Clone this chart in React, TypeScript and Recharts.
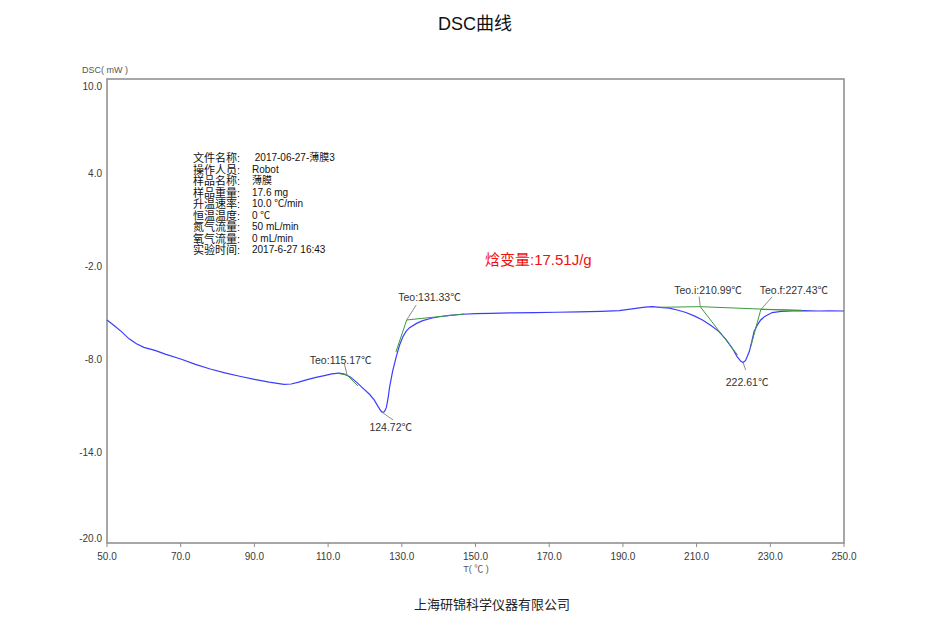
import React from "react";
import {
  LineChart,
  Line,
  XAxis,
  YAxis,
  ReferenceArea,
  ReferenceLine,
  ReferenceDot,
} from "recharts";

// DSC curve, temperature (℃) vs heat flow (mW)
const temps = [
  50, 52, 54, 56, 58, 60, 63, 66, 70, 74, 78, 82, 86, 90, 94, 98, 100, 102, 104.6,
  107, 109, 111, 113, 114.5, 116, 117.7, 119.5, 121.3, 122.5, 123.5, 124.3, 124.72,
  125.3, 125.8, 126.3, 126.7, 127.5, 128.5, 129.4, 130.3, 131.2, 132.1, 134, 135.7,
  138, 140.2, 143, 146.6, 150, 154, 160, 166, 172, 178, 184, 189, 193, 196, 198, 200,
  202.6, 205, 207.1, 209.5, 211.6, 214, 216.1, 218, 219.7, 221, 222, 222.61, 223.3,
  224.3, 225, 225.6, 226.5, 227.4, 228.5, 230.5, 233, 236, 239, 243, 246, 250,
];
const heatFlow = [
  -5.58, -5.95, -6.35, -6.8, -7.12, -7.35, -7.55, -7.8, -8.1, -8.45, -8.75, -9.0,
  -9.22, -9.42, -9.6, -9.75, -9.72, -9.6, -9.42, -9.28, -9.18, -9.07, -9.02, -9.08,
  -9.26, -9.6, -10.0, -10.4, -10.75, -11.15, -11.45, -11.56, -11.5, -11.25, -10.6,
  -9.9, -8.9, -7.95, -7.2, -6.66, -6.3, -6.08, -5.8, -5.62, -5.47, -5.37, -5.28,
  -5.21, -5.17, -5.15, -5.12, -5.1, -5.08, -5.06, -5.03, -4.98, -4.85, -4.75, -4.72,
  -4.76, -4.82, -4.95, -5.1, -5.33, -5.58, -5.95, -6.33, -6.85, -7.41, -7.95, -8.25,
  -8.33, -8.2, -7.62, -6.95, -6.33, -5.9, -5.58, -5.35, -5.1, -5.03, -5.0, -4.98,
  -5.0, -4.99, -5.0,
];

const xTicks = [50, 70, 90, 110, 130, 150, 170, 190, 210, 230, 250];
const yTicks = [10, 4, -2, -8, -14, -20];

// tangent / baseline segments: [t1, v1, t2, v2]
const tangents = [
  [112.5, -9.02, 115.17, -9.15],
  [115.17, -9.15, 118.1, -9.85],
  [128.4, -7.65, 131.33, -5.58],
  [131.33, -5.58, 147, -5.19],
  [199.9, -4.76, 210.99, -4.72],
  [210.99, -4.72, 238.7, -4.98],
  [210.99, -4.72, 221.1, -7.84],
  [224.7, -7.3, 227.43, -4.9],
  [227.43, -4.9, 238.5, -4.95],
];

// leader lines from curve to label: [t1, v1, t2, v2]
const leaders = [
  [115.17, -9.15, 114.4, -8.4],
  [124.72, -11.56, 127.6, -12.04],
  [131.33, -5.58, 133.9, -4.61],
  [210.99, -4.72, 210.7, -4.07],
  [227.43, -4.9, 230.5, -4.09],
  [222.61, -8.33, 223.3, -8.81],
];

const peakLabels = [
  { t: 113.4, v: -8.16, text: "Teo:115.17℃" },
  { t: 127.0, v: -12.5, text: "124.72℃" },
  { t: 137.5, v: -4.09, text: "Teo:131.33℃" },
  { t: 213.1, v: -3.64, text: "Teo.i:210.99℃" },
  { t: 236.4, v: -3.64, text: "Teo.f:227.43℃" },
  { t: 223.7, v: -9.59, text: "222.61℃" },
];

const infoLabels = [
  "文件名称:",
  "操作人员:",
  "样品名称:",
  "样品重量:",
  "升温速率:",
  "恒温温度:",
  "氮气流量:",
  "氧气流量:",
  "实验时间:",
];
const infoValues = [
  " 2017-06-27-薄膜3",
  "Robot",
  "薄膜",
  "17.6 mg",
  "10.0 ℃/min",
  "0 ℃",
  "50 mL/min",
  "0 mL/min",
  "2017-6-27 16:43",
];

const data = temps.map((t, i) => ({ t, v: heatFlow[i] }));

const FONT = "'Liberation Sans', Arial, 'Noto Sans CJK SC', sans-serif";
const AXIS_GRAY = "#8a8a8a";
const TEXT = "#3a3a3a";

const yTickOffset: Record<number, number> = { 10: 8, 4: 2.2, "-2": 2.5, "-8": 2.6, "-14": 2.8, "-20": -4 };

const YTick = (props: any) => {
  const { x, y, payload } = props;
  const off = yTickOffset[payload.value] ?? 2;
  return (
    <text x={x} y={y + off} textAnchor="end" dominantBaseline="middle" fontSize={10} fill={TEXT} fontFamily={FONT}>
      {payload.value.toFixed(1)}
    </text>
  );
};

const XTick = (props: any) => {
  const { x, y, payload } = props;
  return (
    <text x={x} y={y} dy="0.71em" textAnchor="middle" fontSize={10} fill={TEXT} fontFamily={FONT}>
      {payload.value.toFixed(1)}
    </text>
  );
};

const abs = (left: number, top: number, extra: React.CSSProperties = {}): React.CSSProperties => ({
  position: "absolute",
  left,
  top,
  whiteSpace: "pre",
  fontFamily: FONT,
  lineHeight: 1,
  ...extra,
});

export default function App() {
  return (
    <div style={{ position: "absolute", left: 0, top: 0, width: 948, height: 629, background: "#fff" }}>
      <LineChart
        width={948}
        height={629}
        data={data}
        margin={{ top: 79, right: 104, bottom: 56, left: 0 }}
      >
        <XAxis
          dataKey="t"
          type="number"
          domain={[50, 250]}
          ticks={xTicks}
          axisLine={false}
          tickLine={{ stroke: AXIS_GRAY }}
          tickSize={4}
          tickMargin={6}
          height={30}
          tick={<XTick />}
        />
        <YAxis
          type="number"
          domain={[-20, 10]}
          ticks={yTicks}
          axisLine={false}
          tickLine={false}
          tickSize={3}
          tickMargin={2}
          width={107}
          tick={<YTick />}
        />
        <ReferenceArea
          x1={50}
          x2={250}
          y1={-20}
          y2={10}
          fill="none"
          fillOpacity={0}
          stroke={AXIS_GRAY}
          strokeWidth={1.5}
        />
        <Line
          dataKey="v"
          type="linear"
          stroke="#3c3cff"
          strokeWidth={1.2}
          dot={false}
          isAnimationActive={false}
        />
        {tangents.map((s, i) => (
          <ReferenceLine
            key={"tg" + i}
            segment={[
              { x: s[0], y: s[1] },
              { x: s[2], y: s[3] },
            ]}
            stroke="#3e9a3e"
            strokeWidth={1}
          />
        ))}
        {leaders.map((s, i) => (
          <ReferenceLine
            key={"ld" + i}
            segment={[
              { x: s[0], y: s[1] },
              { x: s[2], y: s[3] },
            ]}
            stroke="#8c8c8c"
            strokeWidth={1}
          />
        ))}
        {peakLabels.map((p, i) => (
          <ReferenceDot
            key={"pl" + i}
            x={p.t}
            y={p.v}
            r={1}
            fill="none"
            stroke="none"
            label={{
              value: p.text,
              position: "center",
              fontSize: 10.5,
              fill: "#333",
              fontFamily: FONT,
            }}
          />
        ))}
      </LineChart>

      <div style={abs(475, 24, { transform: "translate(-50%, -50%)", fontSize: 18, color: "#111" })}>DSC曲线</div>
      <div style={abs(82, 70, { transform: "translateY(-50%)", fontSize: 9, color: "#555" })}>DSC( mW )</div>
      <div style={abs(476, 569, { transform: "translate(-50%, -50%)", fontSize: 9, color: "#555" })}>T( ℃ )</div>
      <div style={abs(492, 604, { transform: "translate(-50%, -50%)", fontSize: 13, color: "#222" })}>
        上海研锦科学仪器有限公司
      </div>
      <div style={abs(485, 259, { transform: "translateY(-50%)", fontSize: 15, color: "#f01010" })}>焓变量:17.51J/g</div>

      {infoLabels.map((l, i) => (
        <div key={"il" + i} style={abs(193, 158 + i * 11.5, { transform: "translateY(-50%)", fontSize: 11, color: "#111" })}>
          {l}
        </div>
      ))}
      {infoValues.map((v, i) => (
        <div key={"iv" + i} style={abs(252, 158 + i * 11.5, { transform: "translateY(-50%)", fontSize: 10, color: "#111" })}>
          {v}
        </div>
      ))}
    </div>
  );
}
